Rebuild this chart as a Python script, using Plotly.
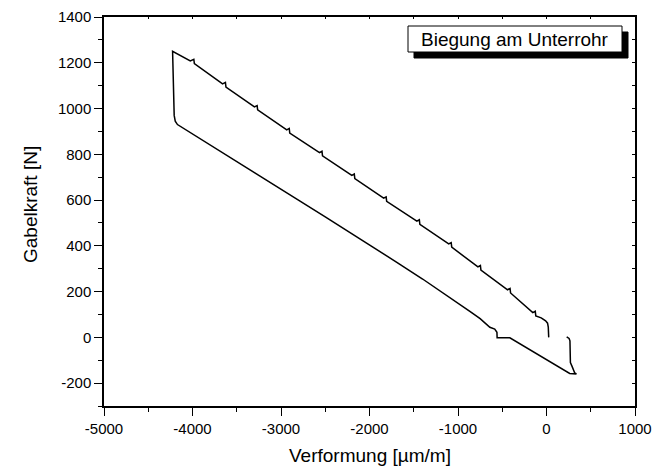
import plotly.graph_objects as go

# Loop path: strain [µm/m] and fork force [N]
strain = [228, 255, 265, 270, 290, 318, 338, 262, -414, -558, -560, -585, -640,
          -750, -866, -1000, -1200, -1400, -1700, -2500, -3350, -4170, -4195,
          -4207, -4225,
          -4025, -3985, -3979,
          -3660, -3628, -3622,
          -3300, -3270, -3264,
          -2935, -2907, -2901,
          -2565, -2537, -2531,
          -2200, -2172, -2166,
          -1840, -1812, -1806,
          -1465, -1437, -1431,
          -1105, -1077, -1071,
          -775, -747, -741,
          -440, -412, -406,
          -155, -127, -121,
          -60, -10, 12, 20, 25]
force = [2, -5, -15, -110, -128, -155, -160, -158, -2, -2, 22, 36, 44,
         82, 114, 150, 203, 255, 330, 527, 732, 930, 945,
         970, 1250,
         1208, 1215, 1196,
         1108, 1114, 1094,
         1007, 1013, 994,
         907, 913, 893,
         807, 813, 793,
         708, 714, 694,
         608, 614, 594,
         508, 514, 494,
         408, 414, 394,
         308, 314, 294,
         208, 214, 194,
         108, 114, 94,
         85, 72, 62, 45, 0]

x_range = [-5000, 1000]
y_range = [-300, 1400]
x_tickvals = [-5000, -4000, -3000, -2000, -1000, 0, 1000]
x_ticktext = ["-5000", "-4000", "-3000", "-2000", "-1000", "0", "1000"]
y_tickvals = [-200, 0, 200, 400, 600, 800, 1000, 1200, 1400]
y_ticktext = ["-200", "0", "200", "400", "600", "800", "1000", "1200", "1400"]
x_title = "Verformung [µm/m]"
y_title = "Gabelkraft [N]"
legend_text = "Biegung am Unterrohr"

FONT = "Liberation Sans, Arial, sans-serif"

fig = go.Figure()
fig.add_trace(go.Scatter(x=strain, y=force, mode="lines",
                         line=dict(color="black", width=1.5),
                         showlegend=False, hoverinfo="skip"))
# dummy trace to anchor the mirrored (top/right) axes
fig.add_trace(go.Scatter(x=[None], y=[None], xaxis="x2", yaxis="y2",
                         showlegend=False, hoverinfo="skip"))

common = dict(showgrid=False, zeroline=False, showline=True, linecolor="black",
              linewidth=1.5, automargin=False)

fig.update_layout(
    width=654, height=470,
    margin=dict(l=104, r=19, t=17, b=64),
    paper_bgcolor="white", plot_bgcolor="white",
    font=dict(family=FONT, color="black", size=15),
    xaxis=dict(range=x_range, tickmode="array", tickvals=x_tickvals,
               ticktext=x_ticktext, ticks="outside", ticklen=8,
               tickwidth=1.3, tickcolor="black",
               minor=dict(dtick=500, ticks="outside", ticklen=4,
                          tickwidth=1.3, tickcolor="black"),
               tickfont=dict(size=15, family=FONT),
               **common),
    yaxis=dict(range=y_range, tickmode="array", tickvals=y_tickvals,
               ticktext=y_ticktext, ticks="outside", ticklen=8,
               tickwidth=1.3, tickcolor="black",
               minor=dict(dtick=100, ticks="outside", ticklen=4,
                          tickwidth=1.3, tickcolor="black"),
               tickfont=dict(size=15, family=FONT),
               **common),
    xaxis2=dict(range=x_range, overlaying="x", side="top", anchor="y2",
                dtick=1000, ticks="inside", ticklen=2, tickwidth=1.3,
                tickcolor="black", showticklabels=False,
                minor=dict(dtick=500, ticks="inside", ticklen=2,
                           tickwidth=1.3, tickcolor="black"),
                **common),
    yaxis2=dict(range=y_range, overlaying="y", side="right", anchor="x2",
                dtick=200, ticks="inside", ticklen=3, tickwidth=1.3,
                tickcolor="black", showticklabels=False,
                minor=dict(dtick=100, ticks="inside", ticklen=3,
                           tickwidth=1.3, tickcolor="black"),
                **common),
)


# pixel -> paper conversion for decorations
def px(xp):
    return (xp - 104) / 531


def py(yp):
    return (406 - yp) / 389


# axis titles
fig.add_annotation(xref="paper", yref="paper", x=px(370), y=py(455),
                   xanchor="center", yanchor="middle", text=x_title,
                   showarrow=False, font=dict(size=19, family=FONT, color="black"))
fig.add_annotation(xref="paper", yref="paper", x=px(30), y=py(205),
                   xanchor="center", yanchor="middle", text=y_title, textangle=-90,
                   showarrow=False, font=dict(size=19, family=FONT, color="black"))

# legend box with drop shadow
fig.add_shape(type="rect", xref="paper", yref="paper",
              x0=px(414), x1=px(628), y0=py(58), y1=py(32),
              fillcolor="black", line=dict(color="black", width=1), layer="above")
fig.add_shape(type="rect", xref="paper", yref="paper",
              x0=px(408), x1=px(622), y0=py(52), y1=py(26),
              fillcolor="white", line=dict(color="black", width=1), layer="above")
fig.add_annotation(xref="paper", yref="paper", x=px(515), y=py(39),
                   xanchor="center", yanchor="middle", text=legend_text,
                   showarrow=False, font=dict(size=19, family=FONT, color="black"))

fig.write_html("out.html")
